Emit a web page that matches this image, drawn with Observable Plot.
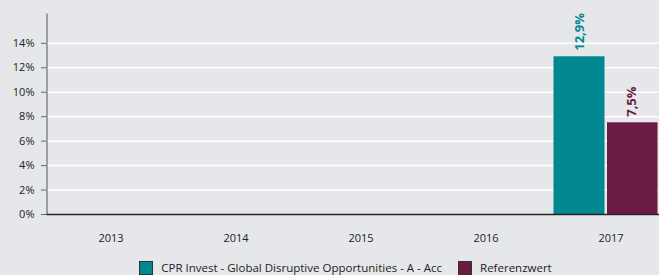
<!DOCTYPE html>
<html>
<head>
<meta charset="utf-8">
<script src="https://cdn.jsdelivr.net/npm/d3@7"></script>
<script src="https://cdn.jsdelivr.net/npm/@observablehq/plot@0.6"></script>
<style>
  html, body { margin: 0; padding: 0; background: #e5e7ea; }
  #wrap { width: 659px; height: 275px; overflow: hidden; position: relative; font-family: "Open Sans", sans-serif; }
  #legend { position: absolute; left: 16px; width: 659px; top: 260px; display: flex; justify-content: center; align-items: center; font-size: 11.5px; color: #222; }
  .sw { display: inline-block; width: 12px; height: 12px; border: 1px solid #333; margin-right: 8px; }
  .item { display: flex; align-items: center; margin: 0 8px; }
</style>
</head>
<body>
<div id="wrap"><div id="chart"></div><div id="legend"></div></div>
<script>
const years = ["2013", "2014", "2015", "2016", "2017"];
const fundValues = [null, null, null, null, 12.9];
const benchValues = [null, null, null, null, 7.5];
const seriesNames = ["CPR Invest - Global Disruptive Opportunities - A - Acc", "Referenzwert"];
const seriesColors = ["#00878f", "#6b1a43"];
const yTicks = [0, 2, 4, 6, 8, 10, 12, 14];

const fmt = v => v.toFixed(1).replace(".", ",") + "%";
const fundRows = years.map((y, i) => ({year: y, value: fundValues[i]})).filter(d => d.value != null);
const benchRows = years.map((y, i) => ({year: y, value: benchValues[i]})).filter(d => d.value != null);

const chart = Plot.plot({
  width: 659,
  height: 252,
  marginLeft: 46.5,
  marginRight: 0,
  marginTop: 13.5,
  marginBottom: 38,
  style: {background: "transparent", fontFamily: "Open Sans, sans-serif", color: "#222"},
  x: {domain: years, range: [46.5, 674], padding: 0, label: null},
  y: {domain: [0, 16.4], label: null},
  marks: [
    Plot.gridY(yTicks, {stroke: "#ffffff", strokeOpacity: 1, strokeWidth: 1.5}),
    Plot.barY(fundRows, {x: "year", y: "value", fill: seriesColors[0], insetLeft: 5.5, insetRight: 68.5}),
    Plot.barY(benchRows, {x: "year", y: "value", fill: seriesColors[1], insetLeft: 59, insetRight: 15.5}),
    Plot.text(fundRows, {x: "year", y: "value", text: d => fmt(d.value), rotate: -90, textAnchor: "start", dx: -31.5, dy: -6, fill: seriesColors[0], fontWeight: "bold", fontSize: 13}),
    Plot.text(benchRows, {x: "year", y: "value", text: d => fmt(d.value), rotate: -90, textAnchor: "start", dx: 20.5, dy: -6, fill: seriesColors[1], fontWeight: "bold", fontSize: 13}),
    Plot.axisY({ticks: yTicks, tickFormat: d => d + "%", tickSize: 5.5, tickPadding: 7, fontSize: 11, stroke: "#666", label: null}),
    Plot.axisX({tickSize: 0, tickPadding: 20, fontSize: 11, label: null}),
    Plot.frame({anchor: "left", stroke: "#555", strokeWidth: 1}),
    Plot.ruleY([0], {stroke: "#222", strokeWidth: 1.5})
  ]
});
document.getElementById("chart").appendChild(chart);

const legend = document.getElementById("legend");
seriesNames.forEach((name, i) => {
  const item = document.createElement("span");
  item.className = "item";
  const sw = document.createElement("span");
  sw.className = "sw";
  sw.style.background = seriesColors[i];
  item.appendChild(sw);
  item.appendChild(document.createTextNode(name));
  legend.appendChild(item);
});
</script>
</body>
</html>
